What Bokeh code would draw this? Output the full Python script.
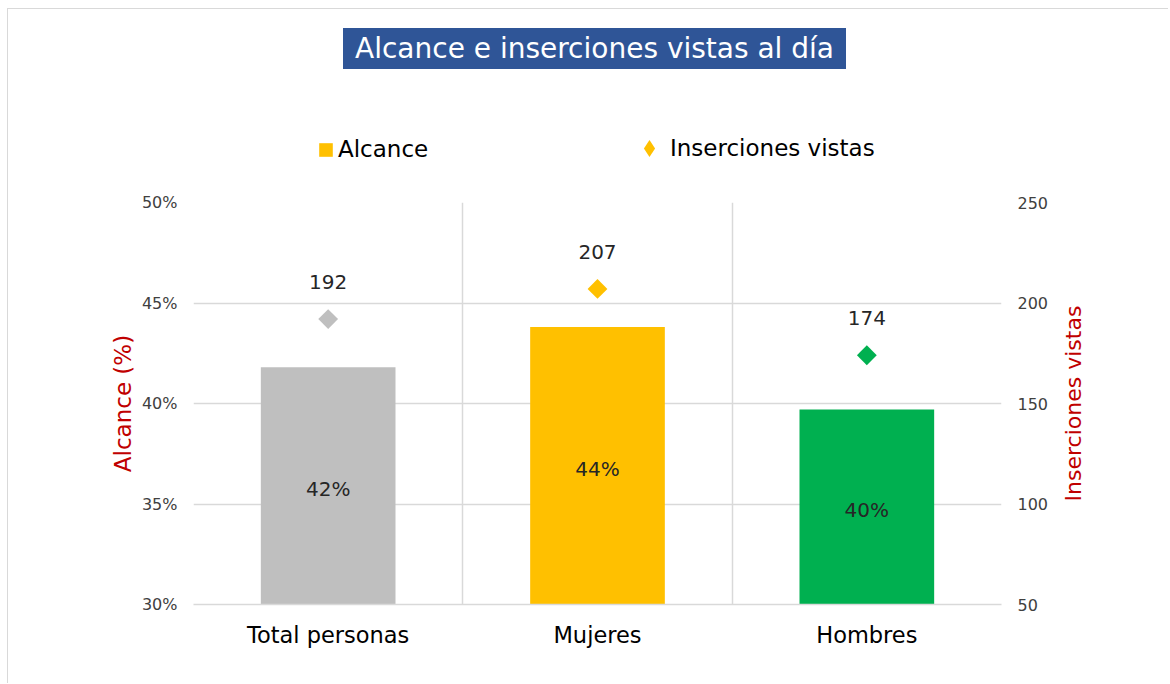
import math
from bokeh.plotting import figure
from bokeh.layouts import column
from bokeh.core.properties import value
from bokeh.models import (Range1d, LinearAxis, FixedTicker, PrintfTickFormatter,
                          ColumnDataSource, LabelSet, Label, Legend, LegendItem)
from bokeh.embed import file_html
from bokeh.resources import INLINE

categories = ["Total personas", "Mujeres", "Hombres"]
alcance = [41.8, 43.8, 39.7]
inserciones = [192, 207, 174]
colors = ["#BFBFBF", "#FFC000", "#00B050"]
alcance_labels = ["42%", "44%", "40%"]
inserciones_labels = ["192", "207", "174"]
left_ticks = [30, 35, 40, 45, 50]
right_ticks = [50, 100, 150, 200, 250]
legend_labels = ["Alcance", "Inserciones vistas"]
title_text = "Alcance e inserciones vistas al día"
left_title = "Alcance (%)"
right_title = "Inserciones vistas"

FONT = "DejaVu Sans"
GRID = "#D9D9D9"
RED = "#C00000"
TICK = "#404040"
DARK = "#262626"

xs = [i + 0.5 for i in range(len(categories))]
src = ColumnDataSource(dict(
    x=xs, alc=alcance, ins=inserciones, color=colors,
    alc_mid=[(left_ticks[0] + a) / 2 for a in alcance],
    alc_lab=alcance_labels, ins_lab=inserciones_labels))

# ---------- header: title box + legend ----------
h = figure(width=1160, height=181, x_range=Range1d(0, 1), y_range=Range1d(0, 1),
           x_axis_type=None, y_axis_type=None, min_border=0,
           output_backend="svg", toolbar_location=None)
h.outline_line_color = None
h.add_layout(Label(x=401, y=142, x_units="screen", y_units="screen", text=title_text,
                   text_align="center", text_baseline="middle",
                   text_font=FONT, text_font_size="28px", text_color="white",
                   background_fill_color="#2F5597", padding=(12, 4)))

# hidden copies of the series, only used to draw the legend swatches
sw_bar = h.vbar(x="x", top="alc", width=0.5, color="color", line_color=None,
                source=src, visible=False)
sw_dia = h.scatter(x="x", y="ins", marker="diamond", color="color", line_color=None,
                   source=src, visible=False)

leg1 = Legend(items=[LegendItem(label=legend_labels[0], renderers=[sw_bar], index=1)],
              location=(124, 28), glyph_width=17, glyph_height=17, label_standoff=4)
leg2 = Legend(items=[LegendItem(label=legend_labels[1], renderers=[sw_dia], index=1)],
              location=(435, 21), glyph_width=42, glyph_height=42, label_standoff=0)
for lg in (leg1, leg2):
    lg.padding = 0
    lg.margin = 0
    lg.border_line_color = None
    lg.background_fill_alpha = 0
    lg.inactive_fill_alpha = 0
    lg.label_text_font = FONT
    lg.label_text_font_size = "23px"
    lg.label_text_color = "black"
    h.add_layout(lg, "center")

# ---------- main chart ----------
p = figure(width=1160, height=493, x_range=Range1d(0, len(categories)),
           y_range=Range1d(left_ticks[0], left_ticks[-1]),
           output_backend="svg", toolbar_location=None,
           min_border_left=185, min_border_right=167,
           min_border_top=12, min_border_bottom=79)
p.outline_line_color = None
p.extra_y_ranges = {"ins": Range1d(right_ticks[0], right_ticks[-1])}

p.vbar(x="x", top="alc", bottom=left_ticks[0], width=0.5, color="color",
       line_color=None, source=src)
p.scatter(x="x", y="ins", marker="square", angle=math.pi / 4, size=14,
          color="color", line_color=None, y_range_name="ins", source=src)

p.yaxis.ticker = FixedTicker(ticks=left_ticks)
p.yaxis.formatter = PrintfTickFormatter(format="%d%%")
p.yaxis.axis_label = left_title
ra = LinearAxis(y_range_name="ins", ticker=FixedTicker(ticks=right_ticks))
p.add_layout(ra, "right")
for ax in (p.yaxis[0], ra):
    ax.axis_line_color = None
    ax.major_tick_line_color = None
    ax.minor_tick_line_color = None
    ax.major_label_text_font = FONT
    ax.major_label_text_font_size = "16px"
    ax.major_label_text_color = TICK
ax = p.yaxis[0]
ax.axis_label_text_font = FONT
ax.axis_label_text_font_size = "23px"
ax.axis_label_text_font_style = "normal"
ax.axis_label_text_color = RED
ax.major_label_standoff = 10
ax.axis_label_standoff = 3
ra.major_label_standoff = 10

# right-hand axis title, reading bottom to top, in its own side panel
p.add_layout(Label(x=22, y=201, x_units="screen", y_units="screen", text=right_title,
                   angle=math.pi / 2, text_align="center", text_baseline="middle",
                   text_font=FONT, text_font_size="22px", text_color=RED), "right")

p.xaxis.ticker = FixedTicker(ticks=xs)
p.xaxis.major_label_overrides = {x: c for x, c in zip(xs, categories)}
p.xaxis.axis_line_color = GRID
p.xaxis.axis_line_width = 1.5
p.xaxis.major_tick_line_color = None
p.xaxis.minor_tick_line_color = None
p.xaxis.major_label_text_font = FONT
p.xaxis.major_label_text_font_size = "22.5px"
p.xaxis.major_label_text_color = "black"
p.xaxis.major_label_standoff = 11

p.xgrid.ticker = FixedTicker(ticks=list(range(len(categories) + 1)))
p.ygrid.ticker = FixedTicker(ticks=left_ticks)
p.xgrid.grid_line_color = GRID
p.ygrid.grid_line_color = GRID
p.xgrid.grid_line_width = 1.5
p.ygrid.grid_line_width = 1.5

p.add_layout(LabelSet(x="x", y="alc_mid", text="alc_lab", source=src,
                      text_align="center", text_baseline="middle", y_offset=-3,
                      text_font=value(FONT), text_font_size="20px", text_color=DARK))
p.add_layout(LabelSet(x="x", y="ins", text="ins_lab", source=src, y_range_name="ins",
                      text_align="center", text_baseline="middle", y_offset=37,
                      text_font=value(FONT), text_font_size="20px", text_color=DARK))

layout = column(h, p, spacing=0)
layout.styles = {"margin-left": "7px", "margin-top": "8px",
                 "border-left": "1px solid #D9D9D9", "border-top": "1px solid #D9D9D9"}

open("out.html", "w").write(file_html(layout, INLINE))
